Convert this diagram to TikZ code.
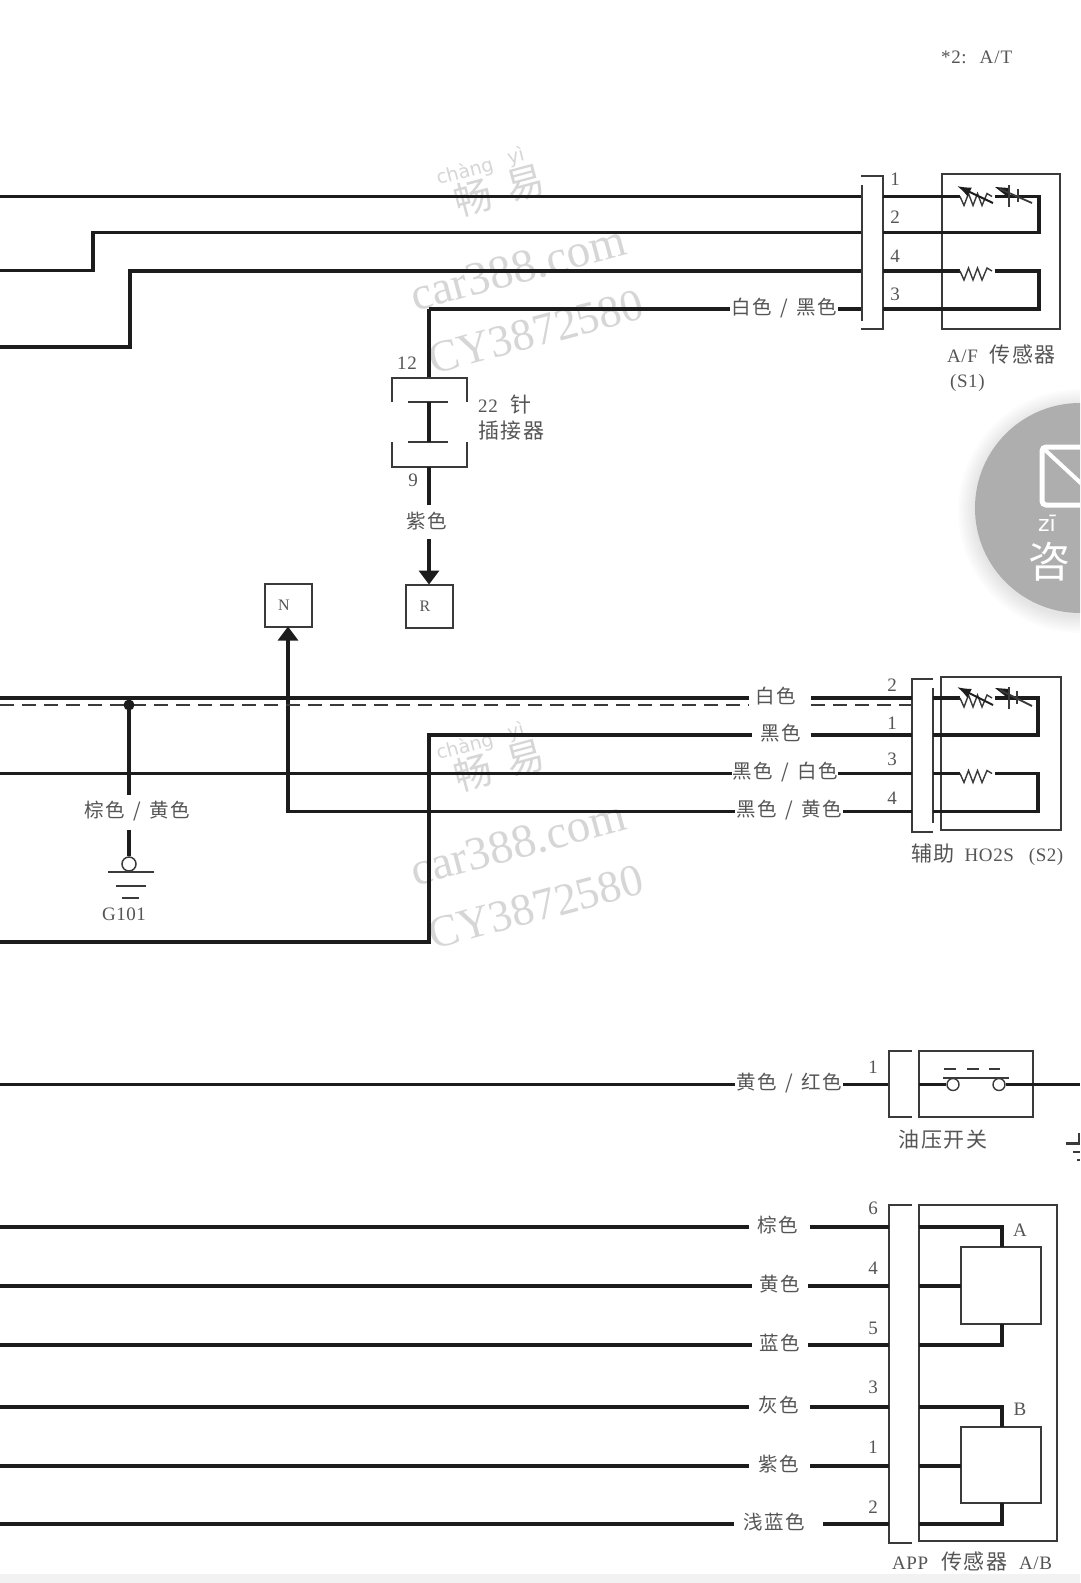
\documentclass[tikz,border=0pt]{standalone}
\usepackage{fontspec}
\usetikzlibrary{arrows.meta}
\setmainfont[LetterSpace=3]{Liberation Serif}
\newfontfamily\wmf{Liberation Serif}
\newfontfamily\cjk[LetterSpace=7,WordSpace=1.5]{Noto Sans CJK SC}
\newfontfamily\dvs{DejaVu Sans}
\definecolor{ink}{HTML}{1C1C1C}
\definecolor{thin}{HTML}{3A3A3A}
\definecolor{lab}{HTML}{555555}
\definecolor{wm}{HTML}{D6D6D6}
\definecolor{fab}{HTML}{AEAEAE}
\newcommand{\zh}[1]{{\cjk #1}}
\newcommand{\zhb}[1]{{\fontsize{21}{21}\selectfont\cjk #1}}
\newcommand{\zzag}[1]{\draw[res] (960,#1) -- (964,#1+9) -- (968.5,#1-3) -- (973,#1+9) -- (977.5,#1-3) -- (982,#1+9) -- (987,#1-3) -- (992,#1);}
\newcommand{\wmark}[1]{%
  \begin{scope}[yshift=-#1pt]
  \node[wmt,rotate=15,font=\fontsize{19}{19}\selectfont\dvs] (wa#1) at (465,172) {chàng};
  \node[wmt,rotate=15,font=\fontsize{19}{19}\selectfont\dvs] (wb#1) at (516,157) {yì};
  \node[wmt,rotate=15,font=\fontsize{38}{38}\selectfont] (wc#1) at (473,198) {\zh{畅}};
  \node[wmt,rotate=15,font=\fontsize{38}{38}\selectfont] (wd#1) at (525,184) {\zh{易}};
  \node[wmt,rotate=15,font=\fontsize{47}{47}\selectfont\wmf] (we#1) at (518,268) {car388.com};
  \node[wmt,rotate=15,font=\fontsize{45}{45}\selectfont\wmf] (wf#1) at (536,332) {CY3872580};
  \end{scope}}
\tikzset{
  wire/.style={draw=ink,line width=3.2pt,line join=miter},
  tw/.style={draw=thin,line width=2pt},
  res/.style={draw=thin,line width=1.4pt,line join=miter},
  diag/.style={draw=ink,line width=2pt},
  boxy/.style={draw=thin,line width=2pt,inner sep=0pt,outer sep=0pt},
  txt/.style={inner sep=0pt,text=lab,font=\fontsize{19}{19}\selectfont},
  wmt/.style={inner sep=0pt,text=wm},
  wl/.style={inner sep=0pt,outer sep=0pt,text=lab,font=\fontsize{19.5}{19.5}\selectfont,minimum width=#1,text height=9pt,text depth=9pt},
  headup/.style={-{Triangle[length=14pt,width=20pt,color=ink]}},
}
\begin{document}
\begin{tikzpicture}[x=1pt,y=-1pt]
\clip (0,0) rectangle (1080,1583);
\fill[white] (0,0) rectangle (1080,1583);
\fill[black!5] (0,1574) rectangle (1080,1583);
% watermarks
\wmark{0}
\wmark{575}
% header
\node[txt,anchor=west] (note) at (941,57) {*2:\hspace{13pt}A\hspace{1pt}/\hspace{1pt}T};
% ---------- A/F sensor ----------
\node[boxy,minimum width=118pt,minimum height=155pt,anchor=north west] (afbox) at (942,174) {};
\coordinate (afL1) at (861,196.5); \coordinate (afL2) at (861,232.5);
\coordinate (afL4) at (861,271); \coordinate (afL3) at (861,309);
\coordinate (afR1) at (883,196.5); \coordinate (afR2) at (883,232.5);
\coordinate (afR4) at (883,271); \coordinate (afR3) at (883,309);
\draw[tw] (861,176) -- (883,176) -- (883,329) -- (861,329);
\draw[tw] (862,185) -- (862,321);
\coordinate (a0) at (0,270.5); \coordinate (a1) at (93,270.5);
\coordinate (b0) at (0,347); \coordinate (b1) at (130,347);
\draw[wire] (0,196.5) -- (afL1);
\draw[wire] (a0) -- (a1) |- (afL2);
\draw[wire] (b0) -- (b1) |- (afL4);
\node[wl=108pt] (lwb) at (784,309) {\raisebox{-5pt}{\zh{白色 / 黑色}}};
\coordinate (c1) at (429,309);
\draw[wire] (afL3) -- (lwb.east);
\draw[wire] (lwb.west) -- (c1);
\draw[wire] (afR1) -- (960,196.5);
\draw[wire] (995,196.5) -- (1039,196.5) -- (1039,232.5) -- (afR2);
\draw[wire] (afR4) -- (960,271);
\draw[wire] (995,271) -- (1039,271) -- (1039,309) -- (afR3);
\zzag{196.5}
\zzag{271}
\draw[diag,{Latex[length=14pt,width=10pt,color=ink]}-] (957,186) -- (993,203);
\fill[ink] (995,187) -- (1009,188) -- (1009,198) -- cycle;
\draw[tw] (1009,185) -- (1009,207);
\draw[tw,line width=1.5pt] (1018,189) -- (1018,202);
\draw[res,line width=1.8pt] (1000,189) -- (1032,203);
\node[txt] (n1) at (895,179) {1};
\node[txt] (n2) at (895,217) {2};
\node[txt] (n4) at (895,256) {4};
\node[txt] (n3) at (895,294) {3};
\node[txt,anchor=west] (afcap) at (947,354) {A/F\hspace{12pt}\zhb{传感器}};
\node[txt,anchor=west] (afcap2) at (950,383) {(S1)};
% ---------- 22 pin ----------
\coordinate (t1) at (429,378); \coordinate (t2) at (429,402);
\coordinate (t3) at (429,442); \coordinate (t4) at (429,467);
\draw[wire] (c1) -- (t1);
\draw[tw] (392,402) -- (392,378) -- (467,378) -- (467,402);
\draw[tw] (392,442) -- (392,467) -- (467,467) -- (467,442);
\draw[tw] (408,402) -- (448,402);
\draw[tw] (408,442) -- (448,442);
\draw[wire] (t2) -- (t3);
\node[txt] (n12) at (407,363) {12};
\node[txt] (n9) at (413,480) {9};
\node[txt,anchor=west] (p22) at (478,405) {22\hspace{13pt}\zhb{针}};
\node[txt,anchor=west] (pcj) at (478,431) {\zhb{插接器}};
\node[wl=0pt] (lpu) at (427,523) {\raisebox{-5pt}{\zh{紫色}}};
\coordinate (pu1) at (429,505); \coordinate (pu2) at (429,539);
\draw[wire] (t4) -- (pu1);
\node[boxy,minimum width=47pt,minimum height=43pt,text=lab,font=\fontsize{16}{16}\selectfont] (R) at (429,606) {\hspace*{-8pt}R};
\draw[wire,headup] (pu2) -- (R.north);
% ---------- N ----------
\node[boxy,minimum width=47pt,minimum height=43pt,text=lab,font=\fontsize{16}{16}\selectfont] (N) at (288,605) {\hspace*{-8pt}N};
\node[wl=108pt] (lby) at (789,811.5) {\raisebox{-5pt}{\zh{黑色 / 黄色}}};
\coordinate (nc) at (288,811.5);
\draw[wire,headup] (lby.west) -- (nc) -- (N.south);
% ---------- S2 sensor ----------
\node[boxy,minimum width=120pt,minimum height=153pt,anchor=north west] (s2box) at (941,677) {};
\draw[tw] (933,679) -- (912,679) -- (912,832) -- (933,832);
\draw[tw] (933,688) -- (933,823);
\coordinate (sL1) at (912,698); \coordinate (sL2) at (912,735);
\coordinate (sL3) at (912,773.5); \coordinate (sL4) at (912,811.5);
\coordinate (sR1) at (933,698); \coordinate (sR2) at (933,735);
\coordinate (sR3) at (933,773.5); \coordinate (sR4) at (933,811.5);
\node[wl=62pt] (lw) at (780,698) {\hspace*{-8pt}\raisebox{-5pt}{\zh{白色}}};
\node[wl=59pt] (lk) at (781,735) {\raisebox{-5pt}{\zh{黑色}}};
\node[wl=106pt] (lkw) at (785,773.5) {\raisebox{-5pt}{\zh{黑色 / 白色}}};
\draw[wire] (0,698) -- (lw.west);
\draw[wire] (lw.east) -- (sL1);
\draw[tw,dash pattern=on 14pt off 8pt] (0,705) -- (lw.west |- 0,705);
\draw[tw,dash pattern=on 14pt off 8pt] (lw.east |- 0,705) -- (912,705);
\coordinate (d1) at (0,942); \coordinate (d2) at (429,942); \coordinate (d3) at (429,735);
\draw[wire] (d1) -- (d2) -- (d3) -- (lk.west);
\draw[wire] (lk.east) -- (sL2);
\draw[wire] (0,773.5) -- (lkw.west);
\draw[wire] (lkw.east) -- (sL3);
\draw[wire] (lby.east) -- (sL4);
\draw[wire] (sR1) -- (960,698);
\draw[wire] (995,698) -- (1038,698) -- (1038,735) -- (sR2);
\draw[wire] (sR3) -- (960,773.5);
\draw[wire] (995,773.5) -- (1038,773.5) -- (1038,811.5) -- (sR4);
\zzag{698}
\zzag{773.5}
\draw[diag,{Latex[length=14pt,width=10pt,color=ink]}-] (957,687) -- (993,705);
\fill[ink] (995,688) -- (1009,689) -- (1009,699) -- cycle;
\draw[tw] (1009,687) -- (1009,709);
\draw[tw,line width=1.5pt] (1017,691) -- (1017,704);
\draw[res,line width=1.8pt] (1000,690) -- (1032,706);
\node[txt] (s2) at (892,685) {2};
\node[txt] (s1) at (892,723) {1};
\node[txt] (s3) at (892,759) {3};
\node[txt] (s4) at (892,798) {4};
\node[txt,anchor=west] (s2cap) at (911,855) {\zhb{辅助}\hspace{10pt}HO2S\hspace{15pt}(S2)};
% ---------- ground ----------
\fill[ink] (129,705) circle (5.5);
\node[wl=0pt] (lgr) at (137,812.5) {\raisebox{-5pt}{\zh{棕色 / 黄色}}};
\node[circle,draw=thin,line width=1.5pt,fill=white,minimum size=14pt,inner sep=0pt] (gc) at (129,864) {};
\draw[wire] (129,705) -- (129,795);
\draw[wire] (129,830) -- (gc.north);
\draw[tw] (108,872) -- (154,872);
\draw[tw] (116,886) -- (146,886);
\draw[tw] (122,898) -- (139,898);
\node[txt] (g101) at (124,914) {G101};
% ---------- oil switch ----------
\node[wl=108pt] (lyr) at (789,1084.5) {\raisebox{-5pt}{\zh{黄色 / 红色}}};
\coordinate (oL) at (889,1084.5);
\draw[wire] (0,1084.5) -- (lyr.west);
\draw[wire] (lyr.east) -- (oL);
\draw[tw] (912,1051) -- (889,1051) -- (889,1117) -- (912,1117);
\node[boxy,minimum width=114pt,minimum height=66pt,anchor=north west] (obox) at (919,1051) {};
\node[circle,draw=thin,line width=1.4pt,minimum size=12pt,inner sep=0pt] (oc1) at (953,1084.5) {};
\node[circle,draw=thin,line width=1.4pt,minimum size=12pt,inner sep=0pt] (oc2) at (999,1084.5) {};
\draw[wire] (obox.west |- oc1) -- (oc1.west);
\draw[wire] (oc2.east) -- (obox.east |- oc2);
\draw[wire] (obox.east |- oc2) -- (1080,1084.5);
\draw[tw] (943,1078) -- (1009,1078);
\draw[tw] (944,1069) -- (956,1069);
\draw[tw] (967,1069) -- (979,1069);
\draw[tw] (989,1069) -- (1000,1069);
\node[txt] (o1) at (873,1067) {1};
\node[txt] (ocap) at (943,1140) {\zhb{油压开关}};
\draw[tw,line width=3pt] (1066,1143) -- (1080,1143);
\draw[tw] (1079,1133) -- (1079,1143);
\draw[tw] (1073,1152) -- (1080,1152);
\draw[tw] (1077,1160) -- (1080,1160);
% ---------- APP ----------
\draw[tw] (912,1205) -- (889,1205) -- (889,1543) -- (912,1543);
\node[boxy,minimum width=138pt,minimum height=336pt,anchor=north west] (abox) at (919,1205) {};
\node[boxy,fill=white,minimum width=80pt,minimum height=77pt,anchor=north west] (sa) at (961,1247) {};
\node[boxy,fill=white,minimum width=80pt,minimum height=76pt,anchor=north west] (sb) at (961,1427) {};
\node[wl=61pt] (l6) at (779.5,1227) {\hspace*{-3pt}\raisebox{-5pt}{\zh{棕色}}};
\node[wl=56pt] (l4) at (780,1286) {\raisebox{-5pt}{\zh{黄色}}};
\node[wl=56pt] (l5) at (780,1345) {\raisebox{-5pt}{\zh{蓝色}}};
\node[wl=61pt] (l3) at (779.5,1407) {\hspace*{-2pt}\raisebox{-5pt}{\zh{灰色}}};
\node[wl=61pt] (l1) at (779.5,1466) {\hspace*{-2pt}\raisebox{-5pt}{\zh{紫色}}};
\node[wl=89pt] (l2) at (778.5,1524) {\hspace*{-8pt}\raisebox{-5pt}{\zh{浅蓝色}}};
\coordinate (aL6) at (889,1227); \coordinate (aL4) at (889,1286); \coordinate (aL5) at (889,1345);
\coordinate (aL3) at (889,1407); \coordinate (aL1) at (889,1466); \coordinate (aL2) at (889,1524);
\coordinate (aR6) at (919,1227); \coordinate (aR4) at (919,1286); \coordinate (aR5) at (919,1345);
\coordinate (aR3) at (919,1407); \coordinate (aR1) at (919,1466); \coordinate (aR2) at (919,1524);
\foreach \n/\y in {l6/1227,l4/1286,l5/1345,l3/1407,l1/1466,l2/1524}{
  \draw[wire] (0,\y) -- (\n.west);
}
\draw[wire] (l6.east) -- (aL6);
\draw[wire] (l4.east) -- (aL4);
\draw[wire] (l5.east) -- (aL5);
\draw[wire] (l3.east) -- (aL3);
\draw[wire] (l1.east) -- (aL1);
\draw[wire] (l2.east) -- (aL2);
\draw[wire] (aR6) -- (1002,1227) -- (1002,1247);
\draw[wire] (aR4) -- (sa.west |- aR4);
\draw[wire] (aR5) -- (1002,1345) -- (1002,1324);
\draw[wire] (aR3) -- (1002,1407) -- (1002,1427);
\draw[wire] (aR1) -- (sb.west |- aR1);
\draw[wire] (aR2) -- (1002,1524) -- (1002,1503);
\node[txt] (nA) at (1020,1230) {A};
\node[txt] (nB) at (1020,1409) {B};
\node[txt] (p6) at (873,1208) {6};
\node[txt] (p4) at (873,1268) {4};
\node[txt] (p5) at (873,1328) {5};
\node[txt] (p3) at (873,1387) {3};
\node[txt] (p1) at (873,1447) {1};
\node[txt] (p2) at (873,1507) {2};
\node[txt,anchor=west] (acap) at (892,1561) {APP\hspace{13pt}\zhb{传感器}\hspace{12pt}A/B};
% ---------- floating button ----------
\foreach \r in {122,120,...,106}{\fill[black,opacity=.01] (1080,511) circle (\r);}
\fill[fab] (1080,508) circle (105);
\draw[white,line width=5pt,rounded corners=4pt] (1100,447) -- (1042,447) -- (1042,505) -- (1100,505);
\draw[white,line width=4pt] (1044,449) -- (1085,487);
\node[inner sep=0pt,text=white,font=\fontsize{22}{22}\selectfont\dvs] (zi) at (1047,523) {zī};
\node[inner sep=0pt,text=white,font=\fontsize{42}{42}\selectfont\cjk] (zx) at (1049,562) {咨};
\end{tikzpicture}
\end{document}
